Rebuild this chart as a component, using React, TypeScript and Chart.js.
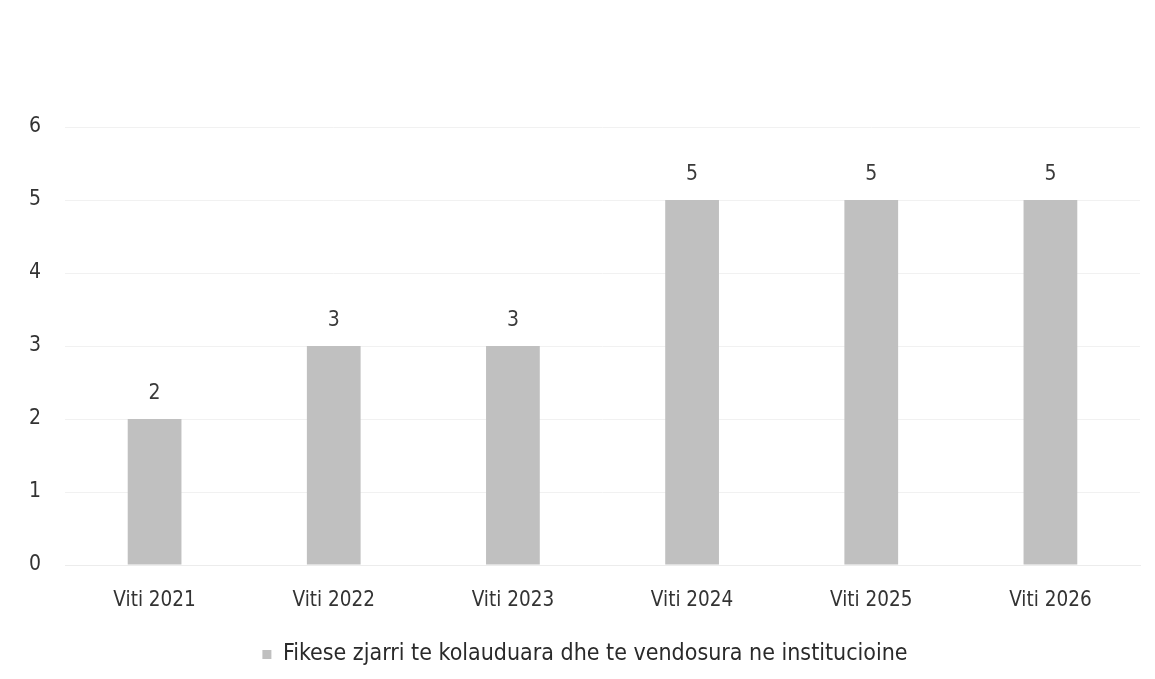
import React, { useEffect, useRef } from "react";
import { Chart, registerables } from "chart.js";

Chart.register(...registerables);

const categories = ["Viti 2021", "Viti 2022", "Viti 2023", "Viti 2024", "Viti 2025", "Viti 2026"];
const values = [2, 3, 3, 5, 5, 5];
const seriesName = "Fikese zjarri te kolauduara dhe te vendosura ne institucioine";
const yTicks = [0, 1, 2, 3, 4, 5, 6];

const FONT = "'DejaVu Sans Condensed', 'DejaVu Sans', sans-serif";

const dataLabels = {
  id: "dataLabels",
  afterDatasetsDraw(chart: any) {
    const ctx = chart.ctx;
    const meta = chart.getDatasetMeta(0);
    ctx.save();
    ctx.font = `21px ${FONT}`;
    ctx.fillStyle = "#3a3a3a";
    ctx.textAlign = "center";
    ctx.textBaseline = "middle";
    meta.data.forEach((bar: any, i: number) => {
      ctx.fillText(String(values[i]), bar.x, bar.y - 25);
    });
    ctx.restore();
  },
};

export default function App() {
  const ref = useRef<HTMLCanvasElement>(null);
  useEffect(() => {
    const chart = new Chart(ref.current!, {
      type: "bar",
      data: {
        labels: categories,
        datasets: [
          {
            label: seriesName,
            data: values,
            backgroundColor: "#c0c0c0",
            categoryPercentage: 1,
            barPercentage: 0.3,
          },
        ],
      },
      options: {
        animation: false,
        responsive: false,
        layout: { padding: { top: 127, right: 15, bottom: 3, left: 30 } },
        plugins: {
          tooltip: { enabled: false },
          legend: {
            position: "bottom",
            labels: {
              font: { family: FONT, size: 23 },
              color: "#2a2a2a",
              boxWidth: 9,
              boxHeight: 9,
              padding: 10,
            },
          },
        },
        scales: {
          x: {
            grid: { display: false },
            border: { display: true, color: "#ececec" },
            afterFit: (s: any) => { s.height = 68; },
            ticks: { font: { family: FONT, size: 20.5 }, color: "#333", padding: 15 },
          },
          y: {
            min: 0,
            max: 6,
            afterFit: (s: any) => { s.width = 35; },
            afterBuildTicks: (s: any) => { s.ticks = yTicks.map((v) => ({ value: v })); },
            grid: { color: "#f1f1f1", drawTicks: false },
            border: { display: false },
            ticks: { font: { family: FONT, size: 21 }, color: "#333", padding: 24 },
          },
        },
      },
      plugins: [dataLabels],
    });
    return () => chart.destroy();
  }, []);
  return (
    <div style={{ position: "fixed", left: 0, top: 0, width: 1155, height: 679, background: "#fff" }}>
      <canvas ref={ref} width={1155} height={679} />
    </div>
  );
}
